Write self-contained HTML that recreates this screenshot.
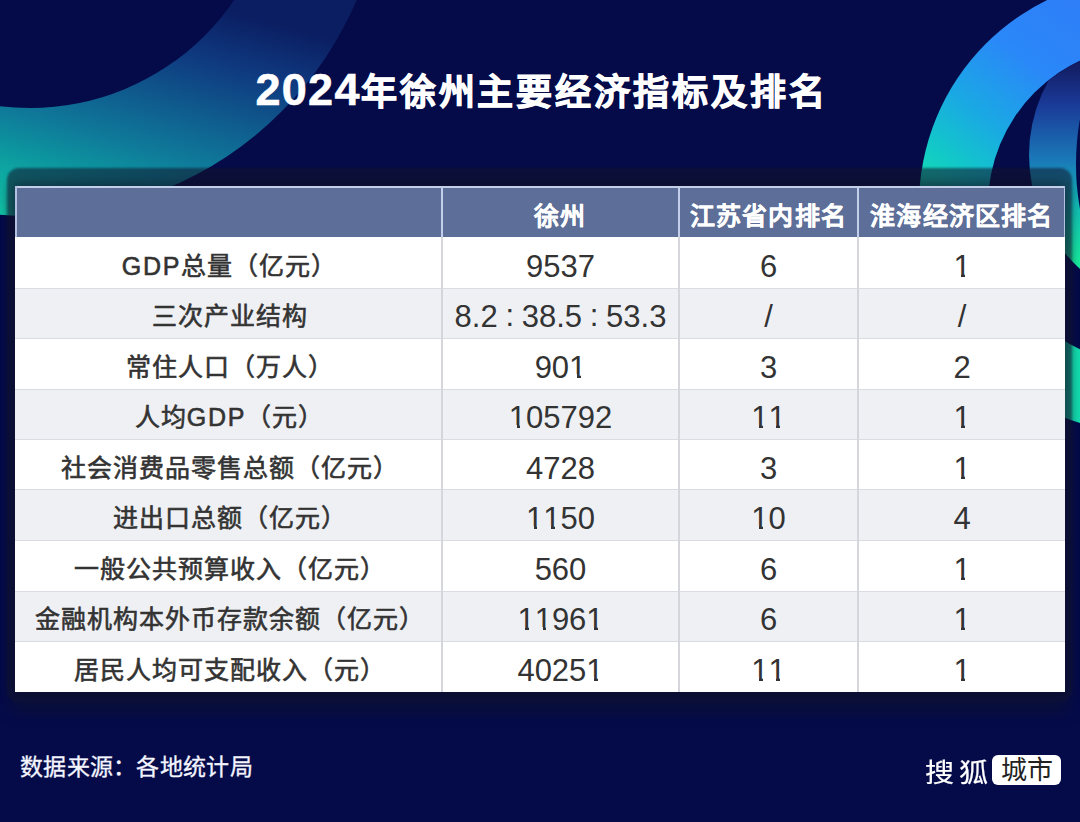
<!DOCTYPE html>
<html lang="zh-CN"><head><meta charset="utf-8">
<style>
html,body{margin:0;padding:0;}
body{width:1080px;height:822px;overflow:hidden;position:relative;background:#050b49;font-family:"Liberation Sans",sans-serif;}
#deco{position:absolute;left:0;top:0;}
#panel{position:absolute;left:7px;top:168px;width:1065px;height:534px;border-radius:12px;background:rgba(18,22,46,0.56);box-shadow:0 14px 14px -4px rgba(18,22,46,0.5);filter:blur(1.2px);}
#title{position:absolute;left:0;top:60px;width:1080px;text-align:center;color:#fff;font-weight:bold;font-size:36px;line-height:60px;-webkit-text-stroke:1px #fff;white-space:nowrap;letter-spacing:2.9px;text-indent:3px;}
#title .d{font-size:45px;-webkit-text-stroke:0.6px #fff;letter-spacing:1.3px;}
#tbl{position:absolute;left:15px;top:186px;width:1050px;height:506px;background:#fff;box-shadow:0 0 12px 2px rgba(14,14,34,0.55);}
.hdr{position:absolute;left:0;top:0;width:1050px;height:51px;background:#5d6f98;border-top:2px solid #c3cfea;box-sizing:border-box;}
.hdr .c{color:#fff;font-weight:bold;font-size:25px;letter-spacing:1.2px;-webkit-text-stroke:0.2px #fff;}
.hdr .c span{position:relative;top:1px;}
.row{position:absolute;left:0;width:1050px;}
.c{position:absolute;top:0;height:100%;display:flex;align-items:center;justify-content:center;color:#333;white-space:nowrap;}
.lab{font-size:25px;letter-spacing:1px;-webkit-text-stroke:0.6px #333;}
.lab b{font-weight:normal;}
.lab .lt{letter-spacing:1.8px;}
.lab span{position:relative;top:1px;left:1.5px;}
.num{font-size:31px;}
.num span{position:relative;top:4px;}
.num i{font-style:normal;display:inline-block;width:24px;text-align:center;position:relative;top:-1px;}
.hl{position:absolute;left:0;width:1050px;height:1px;background:#d9dce3;}
.vl{position:absolute;top:0;width:1.5px;height:506px;background:#d5d6db;margin-left:0.3px;}
.vh{position:absolute;top:0;width:2px;height:51px;background:#c3cfea;}
.eh{position:absolute;top:0;width:1.5px;height:51px;background:#b4c0e2;}
#src{position:absolute;left:20px;top:751px;color:#f4f5ff;font-size:23px;line-height:32px;letter-spacing:0.3px;-webkit-text-stroke:0.3px #f4f5ff;}
#logo{position:absolute;left:925px;top:752px;height:34px;}
#logo .a{position:absolute;left:0;top:4px;color:#fff;font-size:26px;line-height:34px;white-space:nowrap;letter-spacing:4px;-webkit-text-stroke:0.2px #fff;transform:scaleX(1.12);transform-origin:0 0;}
#logo .b{position:absolute;left:67px;top:3px;width:69px;height:30px;background:#fff;border-radius:6px;color:#222;font-size:26px;line-height:30px;text-align:center;}
.o1{text-decoration:none;position:relative;display:inline-block;}
.o1::before{content:"";position:absolute;left:0.5px;width:7.4px;top:24.6px;height:4.6px;background:var(--bg);}
.o1::after{content:"";position:absolute;left:11.4px;width:6.5px;top:24.6px;height:4.6px;background:var(--bg);}

</style></head><body>
<svg id="deco" width="1080" height="822" viewBox="0 0 1080 822">
<defs>
<linearGradient id="gL" x1="0" y1="216" x2="71" y2="-40" gradientUnits="userSpaceOnUse"><stop offset="0" stop-color="#12c8a8"/><stop offset="0.26" stop-color="#0c949e"/><stop offset="0.39" stop-color="#0f7a9a"/><stop offset="0.77" stop-color="#0f3a80"/><stop offset="0.975" stop-color="#0b1e62"/><stop offset="1" stop-color="#0b1e62"/></linearGradient>
<linearGradient id="gR" x1="1080" y1="0" x2="930" y2="200" gradientUnits="userSpaceOnUse"><stop offset="0" stop-color="#2f7ef8"/><stop offset="0.32" stop-color="#2a88f8"/><stop offset="0.6" stop-color="#1aa8e4"/><stop offset="0.82" stop-color="#12c8c8"/><stop offset="1" stop-color="#14e0b0"/></linearGradient>
<linearGradient id="gR2" x1="0" y1="60" x2="0" y2="262" gradientUnits="userSpaceOnUse"><stop offset="0" stop-color="#121a5c"/><stop offset="0.22" stop-color="#1a3a98"/><stop offset="0.5" stop-color="#1a7ab8"/><stop offset="0.72" stop-color="#12c0b8"/><stop offset="1" stop-color="#18f0a0"/></linearGradient>
<clipPath id="cp"><circle cx="1147" cy="205" r="159"/></clipPath>
</defs>
<circle cx="30" cy="-139" r="355" fill="url(#gL)"/>
<circle cx="30" cy="-139" r="247" fill="#050b49"/>
<circle cx="1147" cy="205" r="228" fill="url(#gR)"/>
<circle cx="1147" cy="205" r="159" fill="#050b49"/>
<g clip-path="url(#cp)">
<ellipse cx="1195" cy="155" rx="166" ry="158" fill="url(#gR2)"/>
<ellipse cx="1120" cy="164" rx="44" ry="108" fill="#050b49"/>
</g>
</svg>

<div id="panel"></div>
<div id="title"><span class="d">2024</span>年徐州主要经济指标及排名</div>
<div id="tbl">
<div class="row" style="top:51.00px;height:51.40px;background:#ffffff;--bg:#ffffff"><div class="c lab" style="left:0px;width:426px"><span><b class="lt">GDP</b>总量（亿元）</span></div><div class="c num" style="left:428px;width:235px"><span>9537</span></div><div class="c num" style="left:665px;width:177px"><span>6</span></div><div class="c num" style="left:844px;width:206px"><span><u class="o1">1</u></span></div></div>
<div class="row" style="top:102.40px;height:50.20px;background:#eff0f4;--bg:#eff0f4"><div class="c lab" style="left:0px;width:426px"><span>三次产业结构</span></div><div class="c num" style="left:428px;width:235px"><span>8.2<i>:</i>38.5<i>:</i>53.3</span></div><div class="c num" style="left:665px;width:177px"><span>/</span></div><div class="c num" style="left:844px;width:206px"><span>/</span></div></div>
<div class="row" style="top:152.60px;height:50.50px;background:#ffffff;--bg:#ffffff"><div class="c lab" style="left:0px;width:426px"><span>常住人口（万人）</span></div><div class="c num" style="left:428px;width:235px"><span>90<u class="o1">1</u></span></div><div class="c num" style="left:665px;width:177px"><span>3</span></div><div class="c num" style="left:844px;width:206px"><span>2</span></div></div>
<div class="row" style="top:203.10px;height:50.20px;background:#eff0f4;--bg:#eff0f4"><div class="c lab" style="left:0px;width:426px"><span>人均<b class="lt">GDP</b>（元）</span></div><div class="c num" style="left:428px;width:235px"><span><u class="o1">1</u>05792</span></div><div class="c num" style="left:665px;width:177px"><span><u class="o1">1</u><u class="o1">1</u></span></div><div class="c num" style="left:844px;width:206px"><span><u class="o1">1</u></span></div></div>
<div class="row" style="top:253.30px;height:50.50px;background:#ffffff;--bg:#ffffff"><div class="c lab" style="left:0px;width:426px"><span>社会消费品零售总额（亿元）</span></div><div class="c num" style="left:428px;width:235px"><span>4728</span></div><div class="c num" style="left:665px;width:177px"><span>3</span></div><div class="c num" style="left:844px;width:206px"><span><u class="o1">1</u></span></div></div>
<div class="row" style="top:303.80px;height:50.50px;background:#eff0f4;--bg:#eff0f4"><div class="c lab" style="left:0px;width:426px"><span>进出口总额（亿元）</span></div><div class="c num" style="left:428px;width:235px"><span><u class="o1">1</u><u class="o1">1</u>50</span></div><div class="c num" style="left:665px;width:177px"><span><u class="o1">1</u>0</span></div><div class="c num" style="left:844px;width:206px"><span>4</span></div></div>
<div class="row" style="top:354.30px;height:51.10px;background:#ffffff;--bg:#ffffff"><div class="c lab" style="left:0px;width:426px"><span>一般公共预算收入（亿元）</span></div><div class="c num" style="left:428px;width:235px"><span>560</span></div><div class="c num" style="left:665px;width:177px"><span>6</span></div><div class="c num" style="left:844px;width:206px"><span><u class="o1">1</u></span></div></div>
<div class="row" style="top:405.40px;height:50.20px;background:#eff0f4;--bg:#eff0f4"><div class="c lab" style="left:0px;width:426px"><span>金融机构本外币存款余额（亿元）</span></div><div class="c num" style="left:428px;width:235px"><span><u class="o1">1</u><u class="o1">1</u>96<u class="o1">1</u></span></div><div class="c num" style="left:665px;width:177px"><span>6</span></div><div class="c num" style="left:844px;width:206px"><span><u class="o1">1</u></span></div></div>
<div class="row" style="top:455.60px;height:50.40px;background:#ffffff;--bg:#ffffff"><div class="c lab" style="left:0px;width:426px"><span>居民人均可支配收入（元）</span></div><div class="c num" style="left:428px;width:235px"><span>4025<u class="o1">1</u></span></div><div class="c num" style="left:665px;width:177px"><span><u class="o1">1</u><u class="o1">1</u></span></div><div class="c num" style="left:844px;width:206px"><span><u class="o1">1</u></span></div></div>
<div class="hl" style="top:101.90px"></div>
<div class="hl" style="top:152.10px"></div>
<div class="hl" style="top:202.60px"></div>
<div class="hl" style="top:252.80px"></div>
<div class="hl" style="top:303.30px"></div>
<div class="hl" style="top:353.80px"></div>
<div class="hl" style="top:404.90px"></div>
<div class="hl" style="top:455.10px"></div>
<div class="hdr">
<div class="c" style="left:428px;width:235px"><span>徐州</span></div>
<div class="c" style="left:665px;width:177px"><span>江苏省内排名</span></div>
<div class="c" style="left:844px;width:206px"><span>淮海经济区排名</span></div>
</div>
<div class="vl" style="left:426px"></div>
<div class="vl" style="left:663px"></div>
<div class="vl" style="left:842px"></div>
<div class="vh" style="left:426px"></div>
<div class="vh" style="left:663px"></div>
<div class="vh" style="left:842px"></div>
<div class="eh" style="left:0"></div>
<div class="eh" style="right:0"></div>
</div>
<div id="src">数据来源：各地统计局</div>
<div id="logo"><div class="a">搜狐</div><div class="b">城市</div></div>
</body></html>
